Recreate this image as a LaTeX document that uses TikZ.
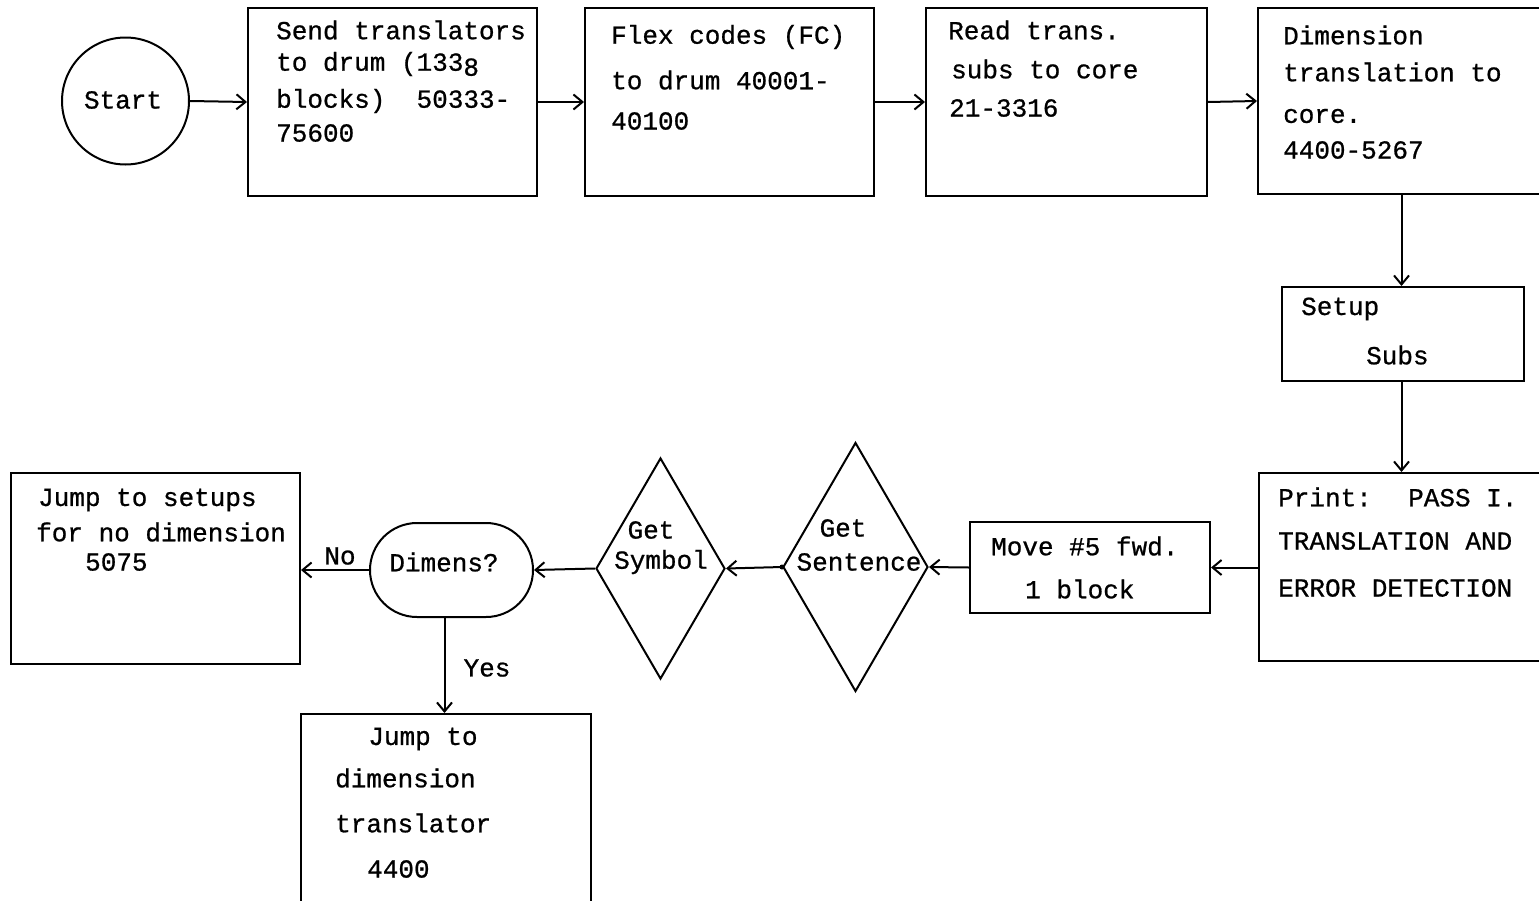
\documentclass[tikz,border=0pt]{standalone}
\usepackage{fontspec}
\newfontfamily\tw[FakeBold=0.8]{Liberation Mono}
\usetikzlibrary{shapes.geometric,shapes.misc,arrows.meta}
\tikzset{
  lw/.style={line width=2pt},
  box/.style={draw, lw, inner sep=0pt, rectangle},
  dia/.style={draw, lw, inner sep=0pt, diamond},
  txt/.style={anchor=west, inner sep=0pt, font=\tw\fontsize{26}{30}\selectfont},
  ctxt/.style={inner sep=0pt, font=\tw\fontsize{26}{30}\selectfont},
  arr/.style={lw, -{Straight Barb[length=9pt,width=15pt,line width=2pt]}},
}
\begin{document}
\begin{tikzpicture}[x=1pt,y=-1pt]
\useasboundingbox (0,0) rectangle (1539,900);
% shapes
\node[draw, circle, lw, minimum size=127pt, inner sep=0pt] (start) at (125.5,101) {};
\node[box, minimum width=289pt, minimum height=188pt] (b1) at (392.5,102) {};
\node[box, minimum width=289pt, minimum height=188pt] (b2) at (729.5,102) {};
\node[box, minimum width=281pt, minimum height=188pt] (b3) at (1066.5,102) {};
\node[box, minimum width=287pt, minimum height=186pt] (b4) at (1401.5,101) {};
\node[box, minimum width=242pt, minimum height=94pt] (setup) at (1403,334) {};
\node[box, minimum width=286pt, minimum height=188pt] (print) at (1402,567) {};
\node[box, minimum width=240pt, minimum height=91pt] (move) at (1090,567.5) {};
\node[dia, minimum width=145pt, minimum height=249pt] (sent) at (855.5,567) {};
\node[dia, minimum width=129pt, minimum height=221pt] (sym) at (660.5,568.5) {};
\node[draw, rounded rectangle, lw, minimum width=163pt, minimum height=94pt, inner sep=0pt] (dim) at (451.5,570) {};
\node[box, minimum width=289pt, minimum height=191pt] (js) at (155.5,568.5) {};
\node[box, minimum width=290pt, minimum height=196pt] (jd) at (446,812) {};
\fill (sent.west) circle (2.5pt);
% texts
\node[ctxt] (tstart) at (123,100) {Start};
\node[txt] (t1a) at (276,30) {Send translators};
\node[txt] (t1b) at (276,64) {to drum (133\raisebox{-5pt}{8}};
\node[txt] (t1c) at (276,101) {blocks)~ 50333-};
\node[txt] (t1d) at (276,133) {75600};
\node[txt] (t2a) at (611,37) {Flex codes (FC)};
\node[txt] (t2b) at (611,80) {to drum 40001-};
\node[txt] (t2c) at (611,121) {40100};
\node[txt] (t3a) at (948,30) {Read trans.};
\node[txt] (t3b) at (951,69) {subs to core};
\node[txt] (t3c) at (949,108) {21-3316};
\node[txt] (t4a) at (1283,35) {Dimension};
\node[txt] (t4b) at (1283,72) {translation to};
\node[txt] (t4c) at (1283,116) {core.};
\node[txt] (t4d) at (1283,150) {4400-5267};
\node[txt] (tsa) at (1301,309) {Setup};
\node[txt] (tsb) at (1366,355) {Subs};
\node[txt] (tpa) at (1278,497) {Print:~ PASS I.};
\node[txt] (tpb) at (1278,541) {TRANSLATION AND};
\node[txt] (tpc) at (1278,588) {ERROR DETECTION};
\node[txt] (tma) at (991,546) {Move \#5 fwd.};
\node[txt] (tmb) at (1025,589) {1 block};
\node[ctxt] (tsea) at (843,528) {Get};
\node[ctxt] (tseb) at (859,562) {Sentence};
\node[ctxt] (tsya) at (651,530) {Get};
\node[ctxt] (tsyb) at (661,562) {Symbol};
\node[ctxt] (tdim) at (444,562) {Dimens?};
\node[ctxt] (tno) at (340,556) {No};
\node[ctxt] (tyes) at (487,668) {Yes};
\node[txt] (tja) at (38,500) {Jump to setups};
\node[txt] (tjb) at (36,532) {for no dimension};
\node[txt] (tjc) at (85,562) {5075};
\node[ctxt] (tka) at (423,739) {Jump to};
\node[txt] (tkb) at (335,778) {dimension};
\node[txt] (tkc) at (335,823) {translator};
\node[txt] (tkd) at (367,869) {4400};
% connectors
\draw[arr] (start.east) -- (b1.west);
\draw[arr] (b1.east) -- (b2.west);
\draw[arr] (b2.east) -- (b3.west);
\draw[arr] (b3.east) -- (b4.west);
\draw[arr] (b4.south) -- (b4.south |- setup.north);
\draw[arr] (b4.south |- setup.south) -- (b4.south |- print.north);
\draw[arr] (print.west |- move.east) -- (move.east);
\draw[arr] (move.west) -- (sent.east);
\draw[arr] (sent.west) -- (sym.east);
\draw[arr] (sym.west) -- (dim.east);
\draw[arr] (dim.west) -- (js.east |- dim.west);
\draw[arr] ([xshift=-7pt]dim.south) -- ([xshift=-7pt]dim.south |- jd.north);
\end{tikzpicture}
\end{document}
